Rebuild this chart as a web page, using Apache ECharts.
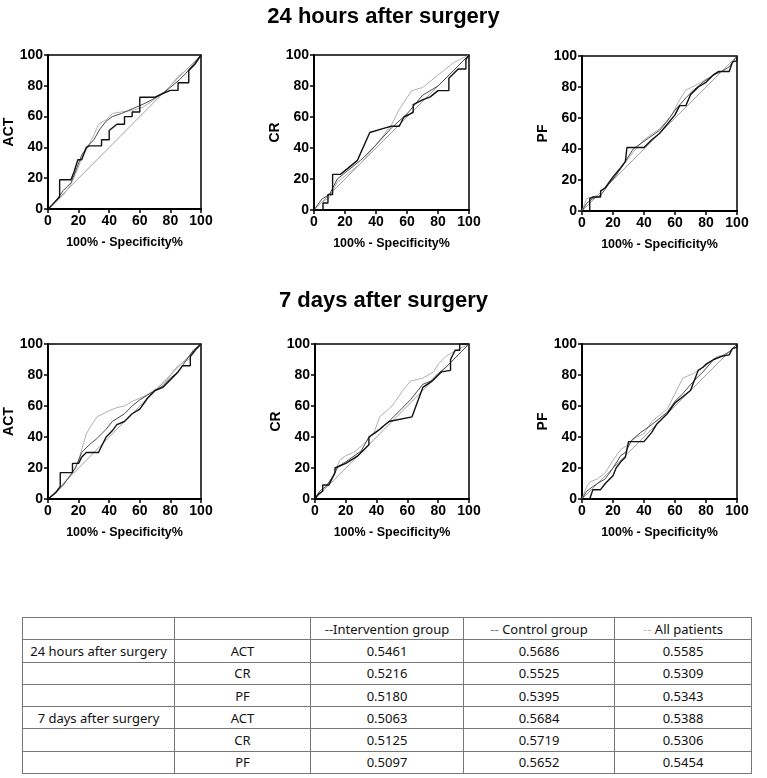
<!DOCTYPE html>
<html>
<head>
<meta charset="utf-8">
<style>
    *{box-sizing: border-box;}
    body,html{margin:0;padding:0;background:#fff;width:767px;height:778px;position:relative;}
    #chart{position:absolute;left:0;top:0;width:767px;height:600px;}
    #tbl{position:absolute;left:22px;top:617px;border-collapse:collapse;font-family:"Noto Sans",sans-serif;font-size:13px;color:#111;}
    #tbl td{border:1px solid #777;height:22.3px;padding:0;text-align:center;line-height:20px;}
</style>
<script src="https://cdn.jsdelivr.net/npm/echarts@6/dist/echarts.min.js"></script>
</head>
<body>
<div id="chart"></div>
<table id="tbl"></table>
<script>
// titles and panel names
var rowTitles = ["24 hours after surgery", "7 days after surgery"];
var panelNames = ["ACT", "CR", "PF", "ACT", "CR", "PF"];
var xName = "100% - Specificity%";
var diagonal = [[0,0],[100,100]];

// ROC curves: [100% - specificity, sensitivity]
// 24 hours, ACT
var act24Intervention = [[0,0],[3,3],[7.6,8],[7.6,19],[15,19],[17,24],[19.5,32],[22,32],[25,40],[27,41],[35,41],[35,45],[40,45],[40,51],[45,55],[50,55],[50,60],[55,60],[55,63],[60,63],[60,72.6],[70,72.6],[75,75],[80,77],[85,77],[85,82],[92,82],[92,90],[96,94],[100,100]];
var act24Control = [[0,0],[5,5],[10,12],[15,17],[19,27],[22,35],[26,41],[30,45],[34,52],[38,57],[42,60],[48,62],[55,65],[62,68],[68,71],[75,75],[80,79],[86,84],[90,88],[95,94],[100,100]];
var act24All = [[0,0],[5,4],[10,9],[15,16],[19,25],[22,33],[26,40],[30,48],[33,55],[38,58],[42,62],[48,63],[55,64],[62,66],[68,70],[75,75],[80,80],[85,86],[90,90],[95,95],[100,100]];
// 24 hours, CR
var cr24Intervention = [[0,0],[5.8,0],[5.8,4.5],[9,4.5],[9,10],[12,10],[12,23],[17,23],[22,27],[28,32],[36,50],[46,53],[50,54],[55,54],[58,60],[64,63],[64,68],[70,71],[75,73],[80,77],[87,77],[87,85],[93,91],[98,91],[98,97],[100,100]];
var cr24Control = [[0,0],[5,7],[10,10],[15,20],[20,24],[30,32],[40,42],[50,53],[60,62],[65,68],[70,74],[80,80],[90,90],[95,95],[100,100]];
var cr24All = [[0,0],[5,5],[10,8],[15,18],[20,22],[30,30],[40,42],[50,55],[55,65],[63,77],[70,79],[80,87],[90,95],[100,100]];
// 24 hours, PF
var pf24Intervention = [[0,0],[5,0],[5,8],[7,9],[12,9],[12,13],[15,15],[20,22],[25,28],[28,32],[29,41],[40,41],[45,46],[50,50],[60,62],[63,68],[67,68],[70,75],[75,80],[80,83],[85,88],[88,90],[95,90],[97,96],[100,97],[100,100]];
var pf24Control = [[0,0],[3,5],[7,8],[12,10],[17,17],[22,23],[28,32],[33,40],[40,45],[50,52],[55,58],[60,65],[67,73],[72,78],[78,83],[85,88],[90,90],[95,93],[100,100]];
var pf24All = [[0,0],[3,8],[6,9],[10,10],[15,15],[20,21],[27,30],[33,38],[40,46],[50,53],[58,62],[62,70],[67,78],[75,82],[80,85],[90,90],[100,100]];
// 7 days, ACT
var act7Intervention = [[0,0],[5,4],[8,8],[8,17],[16,17],[16,23],[20,23],[22,27],[25,30],[33,30],[35,34],[38,40],[42,44],[45,48],[50,50],[55,55],[60,58],[65,65],[70,70],[75,72],[80,77],[85,82],[88,86],[93,86],[93,92],[97,97],[100,100]];
var act7Control = [[0,0],[5,4],[10,9],[15,16],[18,20],[22,30],[27,35],[32,39],[38,45],[42,50],[50,55],[55,60],[60,64],[65,67],[70,70],[75,73],[80,78],[85,82],[90,89],[95,96],[100,100]];
var act7All = [[0,0],[5,5],[10,10],[15,15],[20,25],[25,42],[28,47],[32,53],[40,57],[45,59],[50,60],[55,63],[60,65],[66,68],[72,72],[78,77],[83,84],[88,88],[92,90],[100,100]];
// 7 days, CR
var cr7Intervention = [[0,0],[2,3],[5,5],[5,9],[9,9],[13,17],[13,20],[20,23],[28,28],[35,35],[35,40],[42,45],[48,50],[63,53],[70,72],[76,76],[82,82],[88,83],[88,90],[91,96],[94,96],[94,100],[100,100]];
var cr7Control = [[0,0],[3,5],[7,8],[12,15],[15,21],[20,24],[30,31],[35,40],[40,43],[48,50],[55,57],[62,64],[70,74],[75,76],[80,81],[85,85],[90,90],[95,95],[100,100]];
var cr7All = [[0,0],[3,3],[7,7],[12,15],[16,25],[20,28],[25,30],[30,34],[38,42],[42,53],[50,60],[57,70],[62,76],[70,78],[77,82],[80,87],[85,92],[90,95],[100,100]];
// 7 days, PF
var pf7Intervention = [[0,0],[5,0],[7,6],[12,6],[15,10],[20,15],[22,20],[25,24],[28,27],[30,37],[40,37],[45,43],[48,48],[55,55],[60,62],[65,66],[70,70],[75,83],[78,85],[80,87],[85,90],[90,92],[95,93],[97,97],[100,98],[100,100]];
var pf7Control = [[0,0],[3,5],[7,8],[10,10],[15,13],[20,20],[25,28],[28,30],[32,38],[38,43],[45,48],[55,56],[60,63],[65,68],[72,76],[78,82],[85,90],[90,92],[95,95],[100,100]];
var pf7All = [[0,0],[3,8],[5,11],[10,13],[15,17],[20,25],[25,32],[30,35],[35,40],[40,42],[45,50],[55,58],[60,68],[65,78],[72,81],[80,86],[87,92],[93,93],[100,100]];

// AUC table
var tableHeader = ["", "", "Intervention group", "Control group", "All patients"];
var tableTimes = ["24 hours after surgery", "", "", "7 days after surgery", "", ""];
var tableParams = ["ACT", "CR", "PF", "ACT", "CR", "PF"];
var aucIntervention = ["0.5461", "0.5216", "0.5180", "0.5063", "0.5125", "0.5097"];
var aucControl = ["0.5686", "0.5525", "0.5395", "0.5684", "0.5719", "0.5652"];
var aucAll = ["0.5585", "0.5309", "0.5343", "0.5388", "0.5306", "0.5454"];

var curves = [
    [act24Intervention, act24Control, act24All],
    [cr24Intervention, cr24Control, cr24All],
    [pf24Intervention, pf24Control, pf24All],
    [act7Intervention, act7Control, act7All],
    [cr7Intervention, cr7Control, cr7All],
    [pf7Intervention, pf7Control, pf7All]
];

var grids = [
    {left:48, top:55, width:153, height:154},
    {left:314, top:55, width:155, height:155},
    {left:582, top:56, width:155, height:155},
    {left:48, top:344, width:153, height:155},
    {left:315, top:344, width:154, height:155},
    {left:582, top:344, width:155, height:155}
];

var curveStyles = [
    {color:"#111", width:1.4},
    {color:"#4a4a4a", width:1},
    {color:"#b0b0b0", width:1}
];

var titleStyle = {fontFamily:"Liberation Sans", fontSize:22, fontWeight:"bold", color:"#000"};
var option = {
    animation:false,
    title:[
        {text:rowTitles[0], left:"center", top:1, textStyle:titleStyle},
        {text:rowTitles[1], left:"center", top:285, textStyle:titleStyle}
    ],
    grid:[], xAxis:[], yAxis:[], series:[]
};

for(var i=0;i<6;i++){
    var g = grids[i];
    option.grid.push({left:g.left, top:g.top, width:g.width, height:g.height, show:true, borderColor:"#000", borderWidth:1.5});
    option.xAxis.push({
        gridIndex:i, type:"value", min:0, max:100, interval:20,
        name:xName, nameLocation:"middle", nameGap:27,
        nameTextStyle:{fontFamily:"Liberation Sans", fontSize:12.5, fontWeight:"bold", color:"#000"},
        axisLine:{lineStyle:{color:"#000", width:2}},
        axisTick:{length:4, lineStyle:{color:"#000", width:1.5}},
        axisLabel:{margin:5, fontFamily:"Liberation Sans", fontSize:14, fontWeight:"bold", color:"#000"},
        splitLine:{show:false}
    });
    option.yAxis.push({
        gridIndex:i, type:"value", min:0, max:100, interval:20,
        name:panelNames[i], nameLocation:"middle", nameGap:32,
        nameTextStyle:{fontFamily:"Liberation Sans", fontSize:14, fontWeight:"bold", color:"#000"},
        axisLine:{lineStyle:{color:"#000", width:2}},
        axisTick:{length:4, lineStyle:{color:"#000", width:1.5}},
        axisLabel:{margin:5, fontFamily:"Liberation Sans", fontSize:14, fontWeight:"bold", color:"#000"},
        splitLine:{show:false}
    });
    option.series.push({
        type:"line", xAxisIndex:i, yAxisIndex:i, data:diagonal, showSymbol:false, silent:true,
        lineStyle:{color:"#777", width:0.7}
    });
    for(var k=2;k>=0;k--){
        option.series.push({
            type:"line", xAxisIndex:i, yAxisIndex:i, data:curves[i][k], showSymbol:false,
            lineStyle:{color:curveStyles[k].color, width:curveStyles[k].width}
        });
    }
}

var chart = echarts.init(document.getElementById("chart"));
chart.setOption(option);

// table
var colWidths = [152, 136, 153, 151, 137];
var dashColors = ["#333", "#777", "#bbb"];
var html = "<tr>";
for(var c=0;c<5;c++){
    var txt = tableHeader[c];
    if(c>=2){
        txt = '<span style="color:'+dashColors[c-2]+'">--'+(c>2?" ":"")+'</span>'+txt;
    }
    html += '<td style="width:'+colWidths[c]+'px">'+txt+'</td>';
}
html += "</tr>";
for(var r=0;r<6;r++){
    html += "<tr><td>"+tableTimes[r]+"</td><td>"+tableParams[r]+"</td><td>"+aucIntervention[r]+"</td><td>"+aucControl[r]+"</td><td>"+aucAll[r]+"</td></tr>";
}
document.getElementById("tbl").innerHTML = html;
</script>
</body>
</html>
